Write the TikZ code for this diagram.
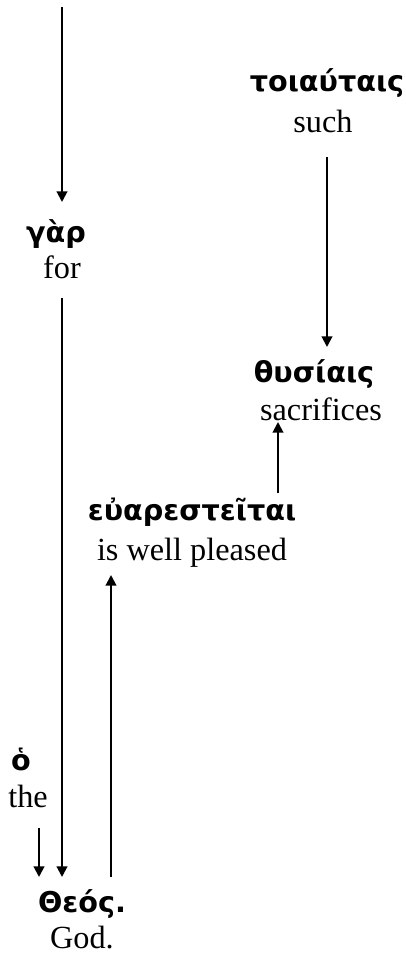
\documentclass[tikz,border=0pt]{standalone}
\usepackage{fontspec}
\setmainfont{Liberation Serif}
\newfontfamily\greekfont{DejaVu Sans}
\usepackage{tikz}
\usetikzlibrary{arrows.meta, positioning, calc}

\begin{document}
\begin{tikzpicture}[
  x=0.75pt, y=-0.75pt,
  greek/.style={font=\greekfont\bfseries\fontsize{21.5}{26}\selectfont, anchor=base, inner sep=0pt},
  gloss/.style={font=\fontsize{24.2}{28}\selectfont, anchor=base, inner sep=0pt},
  arr/.style={-{Triangle[width=8pt, length=8pt]}, line width=1.5pt}
]
\useasboundingbox (0,0) rectangle (405,956);

% Words
\node[greek] (gar) at (56,242) {γὰρ};
\node[gloss] (for) at (62,278) {for};
\node[greek] (toiautais) at (327,92) {τοιαύταις};
\node[gloss] (such) at (323,132) {such};
\node[greek] (thusiais) at (314,382) {θυσίαις};
\node[gloss] (sacrifices) at (321,420) {sacrifices};
\node[greek] (euarestei) at (192,520) {εὐαρεστεῖται};
\node[gloss] (pleased) at (192,560) {is well pleased};
\node[greek] (ho) at (21,770) {ὁ};
\node[gloss] (the) at (28,807) {the};
\node[greek] (theos) at (82,912) {Θεός.};
\node[gloss] (god) at (82,948) {God.};

% Connectors
\coordinate (start) at (62,7);
\draw[arr] (start) -- ($(gar.base -| start)+(0,-40)$);
\draw[arr] ($(for.base)+(0,20)$) -- ($(theos.base -| for)+(0,-35)$);
\draw[arr] ($(the.base)+(11,21)$) -- ($(theos.base)+(-43,-35)$);
\draw[arr] ($(theos.base)+(29,-35)$) -- ($(pleased.base)+(-81,15)$);
\draw[arr] ($(euarestei.base)+(86,-27)$) -- ($(sacrifices.base)+(-43,2)$);
\draw[arr] ($(such.base)+(4,25)$) -- ($(thusiais.base)+(13,-35)$);

\end{tikzpicture}
\end{document}
